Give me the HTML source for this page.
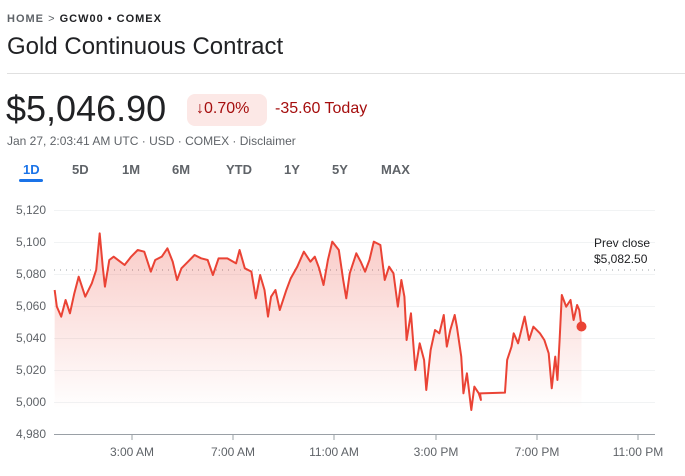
<!DOCTYPE html>
<html><head><meta charset="utf-8"><style>
body{margin:0;width:685px;height:476px;background:#fff;font-family:"Liberation Sans",Arial,sans-serif;position:relative;overflow:hidden}
.a{position:absolute;white-space:nowrap}
</style></head><body>
<div class="a" style="left:7px;top:13px;font-size:11px;letter-spacing:1px;color:#5f6368;font-weight:bold">HOME <span style="font-weight:normal">&gt;</span> <span style="color:#202124">GCW00 • COMEX</span></div>
<div class="a" style="left:7px;top:33px;font-size:24px;color:#202124">Gold Continuous Contract</div>
<div class="a" style="left:7px;top:73px;width:678px;height:1px;background:#e0e0e0"></div>
<div class="a" style="left:6px;top:88px;font-size:36px;color:#202124">$5,046.90</div>
<div class="a" style="left:187px;top:94px;width:80px;height:32px;background:#fce8e6;border-radius:8px"></div>
<div class="a" style="left:196px;top:100px;font-size:16px;color:#a50e0e">↓0.70%</div>
<div class="a" style="left:275px;top:100px;font-size:16px;color:#a50e0e">-35.60 Today</div>
<div class="a" style="left:7px;top:134px;font-size:12px;color:#5f6368">Jan 27, 2:03:41 AM UTC · USD · COMEX · Disclaimer</div>
<div class="a" style="left:23px;top:162px;font-size:13px;color:#1a73e8;font-weight:bold">1D</div>
<div class="a" style="left:19px;top:179px;width:24px;height:3px;background:#1a73e8;border-radius:2px"></div>
<div class="a" style="left:72px;top:162px;font-size:13px;color:#5f6368;font-weight:bold">5D</div>
<div class="a" style="left:122px;top:162px;font-size:13px;color:#5f6368;font-weight:bold">1M</div>
<div class="a" style="left:172px;top:162px;font-size:13px;color:#5f6368;font-weight:bold">6M</div>
<div class="a" style="left:226px;top:162px;font-size:13px;color:#5f6368;font-weight:bold">YTD</div>
<div class="a" style="left:284px;top:162px;font-size:13px;color:#5f6368;font-weight:bold">1Y</div>
<div class="a" style="left:332px;top:162px;font-size:13px;color:#5f6368;font-weight:bold">5Y</div>
<div class="a" style="left:381px;top:162px;font-size:13px;color:#5f6368;font-weight:bold">MAX</div>
<svg class="a" style="left:0;top:0" width="685" height="476">
<defs><linearGradient id="g" x1="0" y1="0" x2="0" y2="1"><stop offset="0" stop-color="#ea4335" stop-opacity="0.28"/><stop offset="1" stop-color="#ea4335" stop-opacity="0"/></linearGradient></defs>
<g stroke="#f1f3f4" stroke-width="1">
<line x1="54" x2="655" y1="210.5" y2="210.5"/><line x1="54" x2="655" y1="242.5" y2="242.5"/><line x1="54" x2="655" y1="274.5" y2="274.5"/><line x1="54" x2="655" y1="306.5" y2="306.5"/><line x1="54" x2="655" y1="338.5" y2="338.5"/><line x1="54" x2="655" y1="370.5" y2="370.5"/><line x1="54" x2="655" y1="402.5" y2="402.5"/>
</g>
<line x1="54" x2="655" y1="434.5" y2="434.5" stroke="#9aa0a6"/>
<g stroke="#9aa0a6"><line x1="132" x2="132" y1="434" y2="440"/><line x1="233" x2="233" y1="434" y2="440"/><line x1="334" x2="334" y1="434" y2="440"/><line x1="436" x2="436" y1="434" y2="440"/><line x1="537" x2="537" y1="434" y2="440"/><line x1="638" x2="638" y1="434" y2="440"/></g>
<g font-size="12" fill="#5f6368" text-anchor="end"><text x="46" y="214">5,120</text><text x="46" y="246">5,100</text><text x="46" y="278">5,080</text><text x="46" y="310">5,060</text><text x="46" y="342">5,040</text><text x="46" y="374">5,020</text><text x="46" y="406">5,000</text><text x="46" y="438">4,980</text></g>
<g font-size="12" fill="#5f6368" text-anchor="middle"><text x="132" y="456">3:00 AM</text><text x="233" y="456">7:00 AM</text><text x="334" y="456">11:00 AM</text><text x="436" y="456">3:00 PM</text><text x="537" y="456">7:00 PM</text><text x="638" y="456">11:00 PM</text></g>
<line x1="54" x2="655" y1="270" y2="270" stroke="#9aa0a6" stroke-dasharray="1,5"/>
<text x="594" y="247" font-size="12" fill="#202124">Prev close</text>
<text x="594" y="263" font-size="12" fill="#202124">$5,082.50</text>
<g transform="translate(0,200) scale(0.4372,0.3333)">
<path fill="url(#g)" d="M125,270 L130,320 140,350 150,300 160,340 170,280 180,230 195,290 210,250 220,210 228,100 235,200 240,260 250,180 260,170 275,185 285,195 300,170 315,150 330,155 345,215 355,180 370,170 383,145 395,185 405,240 415,205 430,185 445,165 460,175 475,180 487,225 500,175 520,175 540,190 548,150 560,205 575,215 585,295 595,225 605,270 613,350 620,290 630,270 640,330 655,270 665,235 680,200 695,155 710,185 720,170 730,205 740,255 750,180 760,125 775,150 785,240 792,295 800,220 815,160 825,185 835,215 845,180 855,125 870,135 880,240 890,200 900,220 910,320 918,240 925,290 930,420 940,340 950,510 960,430 970,480 975,570 985,450 995,390 1005,400 1015,345 1022,440 1030,390 1040,345 1045,380 1055,470 1060,580 1068,520 1078,630 1085,560 1095,580 1100,600 1098,580 1155,578 1160,480 1170,440 1175,400 1185,430 1200,350 1210,420 1220,380 1235,400 1245,420 1255,460 1262,565 1270,470 1275,540 1280,420 1285,285 1295,320 1305,300 1312,360 1320,315 1325,330 1330,380 L1330,620 L125,620 Z"/>
<path fill="none" stroke="#ea4335" stroke-width="2" vector-effect="non-scaling-stroke" stroke-linejoin="round" d="M125,270 L130,320 140,350 150,300 160,340 170,280 180,230 195,290 210,250 220,210 228,100 235,200 240,260 250,180 260,170 275,185 285,195 300,170 315,150 330,155 345,215 355,180 370,170 383,145 395,185 405,240 415,205 430,185 445,165 460,175 475,180 487,225 500,175 520,175 540,190 548,150 560,205 575,215 585,295 595,225 605,270 613,350 620,290 630,270 640,330 655,270 665,235 680,200 695,155 710,185 720,170 730,205 740,255 750,180 760,125 775,150 785,240 792,295 800,220 815,160 825,185 835,215 845,180 855,125 870,135 880,240 890,200 900,220 910,320 918,240 925,290 930,420 940,340 950,510 960,430 970,480 975,570 985,450 995,390 1005,400 1015,345 1022,440 1030,390 1040,345 1045,380 1055,470 1060,580 1068,520 1078,630 1085,560 1095,580 1100,600 1098,580 1155,578 1160,480 1170,440 1175,400 1185,430 1200,350 1210,420 1220,380 1235,400 1245,420 1255,460 1262,565 1270,470 1275,540 1280,420 1285,285 1295,320 1305,300 1312,360 1320,315 1325,330 1330,380"/>
</g>
<circle cx="581.5" cy="326.5" r="5" fill="#ea4335"/>
</svg>
</body></html>
